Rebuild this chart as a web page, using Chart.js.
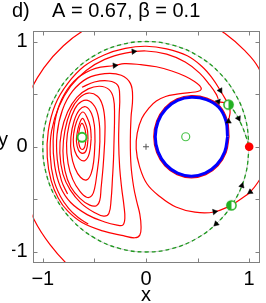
<!DOCTYPE html>
<html>
<head>
<meta charset="utf-8">
<script src="https://cdn.jsdelivr.net/npm/chart.js@4/dist/chart.umd.min.js"></script>
<style>
  html, body { margin: 0; padding: 0; background: #fff; }
</style>
</head>
<body>
<canvas id="myChart" width="266" height="303"></canvas>
<script>
// axis ticks
const tickMarks = [-1, -0.5, 0, 0.5, 1];
const xTickValues = [-1, 0, 1];
const xTickLabels = ["−1", "0", "1"];
const yTickValues = [-1, 0, 1];
const yTickLabels = ["−1", "0", "1"];

// fixed points
const leftFocus = [[-0.62, 0.09]];
const rightCenter = [[0.385, 0.095]];
const node = [[1, 0]];
const saddles = [[0.8, 0.4], [0.828, -0.557]];
const origin = [[0, 0]];

// invariant unit circle (green dashed) and saddle -> node branch
const unitCircle = [[1,0],[0.966,0.259],[0.866,0.5],[0.707,0.707],[0.5,0.866],[0.259,0.966],[0,1],[-0.259,0.966],[-0.5,0.866],[-0.707,0.707],[-0.866,0.5],[-0.966,0.259],[-1,0],[-0.966,-0.259],[-0.866,-0.5],[-0.707,-0.707],[-0.5,-0.866],[-0.259,-0.966],[0,-1],[0.259,-0.966],[0.5,-0.866],[0.707,-0.707],[0.866,-0.5],[0.966,-0.259],[1,0]];
const s1ToNode = [[0.8,0.4],[0.86,0.33],[0.92,0.22],[0.965,0.11],[1,0]];

// limit cycle (blue)
const blueCycle = [[0.79,0.095],[0.775,0.245],[0.705,0.375],[0.585,0.448],[0.44,0.47],[0.306,0.441],[0.193,0.36],[0.117,0.239],[0.09,0.095],[0.117,-0.049],[0.193,-0.17],[0.306,-0.251],[0.44,-0.28],[0.574,-0.251],[0.687,-0.17],[0.763,-0.049],[0.79,0.095]];

// trajectories (red)
const outerSpiral = [[-0.55,-1.3],[-0.75,-1.13],[-0.93,-0.93],[-1.08,-0.7],[-1.19,-0.42],[-1.24,-0.1],[-1.22,0.22],[-1.14,0.49],[-0.99,0.75],[-0.8,0.96],[-0.58,1.12],[-0.3,1.24],[0,1.3],[0.3,1.29],[0.55,1.21],[0.76,1.08],[0.95,0.92],[1.09,0.75],[1.18,0.5],[1.22,0.25],[1.21,0],[1.16,-0.2],[1.09,-0.33],[1.01,-0.43],[0.93,-0.49],[0.828,-0.557]];
const toS1 = [[0.8,0.4],[0.72,0.535],[0.64,0.655],[0.54,0.765],[0.4,0.865],[0.2,0.93],[0,0.955],[-0.2,0.935],[-0.4,0.875],[-0.6,0.765],[-0.76,0.6],[-0.88,0.4],[-0.947,0.15],[-0.957,-0.1],[-0.92,-0.32],[-0.85,-0.49],[-0.76,-0.61],[-0.62,-0.72],[-0.42,-0.8],[-0.22,-0.845],[-0.11,-0.865],[-0.06,-0.84],[-0.048,-0.76],[-0.06,-0.64],[-0.09,-0.52],[-0.12,-0.38],[-0.145,-0.18],[-0.152,0.05],[-0.145,0.28],[-0.13,0.46],[-0.15,0.6],[-0.24,0.68],[-0.4,0.695],[-0.57,0.65],[-0.71,0.53],[-0.81,0.35],[-0.862,0.12],[-0.86,-0.12],[-0.82,-0.32],[-0.76,-0.45]];
const toCycle = [[0.7,0.455],[0.68,0.5],[0.62,0.585],[0.52,0.7],[0.38,0.805],[0.2,0.88],[0,0.91],[-0.2,0.89],[-0.4,0.83],[-0.58,0.725],[-0.73,0.575],[-0.845,0.38],[-0.915,0.15],[-0.928,-0.08],[-0.895,-0.31],[-0.83,-0.47],[-0.75,-0.585],[-0.66,-0.67],[-0.56,-0.735]];
const toS2 = [[0.828,-0.557],[0.66,-0.62],[0.475,-0.622],[0.29,-0.573],[0.13,-0.47],[0.009,-0.352],[-0.065,-0.18],[-0.095,-0.02],[-0.085,0.13],[-0.04,0.27],[0.03,0.37],[0.1,0.435],[0.19,0.478],[0.3,0.5],[0.42,0.515],[0.5,0.525],[0.535,0.545],[0.52,0.58],[0.47,0.62],[0.38,0.67],[0.25,0.72],[0.1,0.76],[-0.05,0.78],[-0.209,0.79],[-0.303,0.772],[-0.49,0.745],[-0.66,0.655],[-0.79,0.5],[-0.87,0.3],[-0.9,0.06],[-0.885,-0.18],[-0.83,-0.38],[-0.73,-0.53],[-0.57,-0.645],[-0.4,-0.715],[-0.28,-0.745],[-0.225,-0.745],[-0.205,-0.68],[-0.215,-0.55],[-0.235,-0.4],[-0.255,-0.2],[-0.265,0.05],[-0.26,0.3],[-0.255,0.48],[-0.275,0.585],[-0.36,0.625],[-0.5,0.615],[-0.62,0.565]];
const loopK1 = [[-0.31,0.05],[-0.305,0.3],[-0.315,0.46],[-0.36,0.545],[-0.45,0.575],[-0.56,0.55],[-0.67,0.47],[-0.76,0.33],[-0.82,0.14],[-0.835,-0.06],[-0.805,-0.26],[-0.735,-0.41],[-0.625,-0.54],[-0.5,-0.625],[-0.41,-0.66],[-0.36,-0.635],[-0.338,-0.5],[-0.325,-0.3],[-0.315,-0.12],[-0.31,0.05]];
const loopL6 = [[-0.4,0.05],[-0.398,0.24],[-0.42,0.39],[-0.47,0.48],[-0.56,0.51],[-0.65,0.46],[-0.73,0.34],[-0.785,0.16],[-0.805,-0.04],[-0.785,-0.23],[-0.73,-0.38],[-0.64,-0.49],[-0.545,-0.555],[-0.48,-0.56],[-0.448,-0.51],[-0.435,-0.39],[-0.415,-0.18],[-0.4,0.05]];
const loopL5 = [[-0.447,0.05],[-0.452,0.22],[-0.485,0.36],[-0.55,0.435],[-0.625,0.43],[-0.69,0.36],[-0.745,0.21],[-0.77,0.03],[-0.755,-0.16],[-0.71,-0.31],[-0.64,-0.425],[-0.575,-0.48],[-0.525,-0.465],[-0.497,-0.39],[-0.475,-0.25],[-0.456,-0.1],[-0.447,0.05]];
const loopL4 = [[-0.494,0.05],[-0.5,0.2],[-0.528,0.315],[-0.585,0.38],[-0.645,0.35],[-0.697,0.245],[-0.728,0.09],[-0.724,-0.07],[-0.69,-0.2],[-0.635,-0.29],[-0.575,-0.315],[-0.532,-0.255],[-0.506,-0.13],[-0.494,0.05]];
const loopL3 = [[-0.531,0.08],[-0.54,0.19],[-0.572,0.28],[-0.61,0.33],[-0.65,0.29],[-0.688,0.19],[-0.705,0.07],[-0.69,-0.04],[-0.645,-0.115],[-0.59,-0.13],[-0.549,-0.06],[-0.531,0.08]];
const loopL2 = [[-0.562,0.07],[-0.568,0.16],[-0.59,0.23],[-0.615,0.27],[-0.645,0.22],[-0.667,0.13],[-0.674,0.05],[-0.655,-0.03],[-0.615,-0.063],[-0.578,-0.03],[-0.562,0.07]];
const loopL1 = [[-0.581,0.08],[-0.59,0.16],[-0.62,0.222],[-0.645,0.17],[-0.655,0.08],[-0.643,0],[-0.62,-0.026],[-0.595,-0.005],[-0.581,0.08]];
const hugCycle = [[0.805,0.095],[0.789,0.25],[0.716,0.386],[0.59,0.462],[0.44,0.485],[0.3,0.455],[0.182,0.371],[0.103,0.244],[0.075,0.095],[0.103,-0.054],[0.182,-0.181],[0.3,-0.265],[0.44,-0.295],[0.58,-0.265],[0.698,-0.181],[0.777,-0.054],[0.805,0.095]];
const s1Branches = [[0.7,0.425],[0.76,0.42],[0.8,0.4],[0.815,0.33],[0.8,0.25]];

// flow arrows: position and heading (degrees clockwise from up)
const arrowPts = [[0.72,0.535],[0.7,0.43],[-0.12,0.905],[-0.303,0.772],[0.665,-0.618],[0.8,0.24],[0.897,0.27],[0.929,-0.37],[0.68,-0.733],[1.01,-0.43]];
const arrowDir = [150, 280, 85, 85, 80, 0, 153, 17, 227, 235];

const RED = "#ff0000";
const GREEN = "#1f9a1f";
const FONT = "Liberation Sans";

function xy(arr) {
  return arr.map(([x, y]) => ({ x, y }));
}

function curve(arr, color, width, extra) {
  return Object.assign({
    data: xy(arr),
    showLine: true,
    borderColor: color,
    borderWidth: width,
    pointRadius: 0,
    tension: 0.4,
    fill: false,
  }, extra || {});
}

function halfDot(right) {
  const c = document.createElement("canvas");
  c.width = 13;
  c.height = 13;
  const g = c.getContext("2d");
  g.fillStyle = "#fff";
  g.beginPath();
  g.arc(6.5, 6.5, 4.6, 0, Math.PI * 2);
  g.fill();
  g.fillStyle = "#22b022";
  g.beginPath();
  g.moveTo(6.5, 6.5);
  g.arc(6.5, 6.5, 4.6, -Math.PI / 2, Math.PI / 2, !right);
  g.closePath();
  g.fill();
  g.strokeStyle = "#22b022";
  g.lineWidth = 1.5;
  g.beginPath();
  g.arc(6.5, 6.5, 4.6, 0, Math.PI * 2);
  g.stroke();
  return c;
}

const frame = {
  id: "frame",
  afterDraw(chart) {
    const { ctx, chartArea: a, scales: { x, y } } = chart;
    ctx.save();
    ctx.strokeStyle = "#808080";
    ctx.lineWidth = 1;
    const l = Math.round(a.left) + 0.5, r = Math.round(a.right) - 0.5;
    const t = Math.round(a.top) + 0.5, b = Math.round(a.bottom) - 0.5;
    ctx.strokeRect(l, t, r - l, b - t);
    ctx.beginPath();
    tickMarks.forEach((v) => {
      const px = Math.round(x.getPixelForValue(v)) + 0.5;
      ctx.moveTo(px, b); ctx.lineTo(px, b - 4);
      ctx.moveTo(px, t); ctx.lineTo(px, t + 4);
      const py = Math.round(y.getPixelForValue(v)) + 0.5;
      ctx.moveTo(l, py); ctx.lineTo(l + 4, py);
      ctx.moveTo(r, py); ctx.lineTo(r - 4, py);
    });
    ctx.stroke();
    ctx.fillStyle = "#000";
    ctx.font = '20px "' + FONT + '"';
    ctx.textAlign = "center";
    ctx.textBaseline = "alphabetic";
    ctx.fillText("x", x.getPixelForValue(0), 301);
    ctx.fillText("y", 3, 146);
    ctx.restore();
  },
};

const ctx = document.getElementById("myChart");

new Chart(ctx, {
  type: "scatter",
  data: {
    datasets: [
      { data: xy(leftFocus), pointRadius: 4.5, pointBorderWidth: 2, pointBorderColor: "#2fbf2f", pointBackgroundColor: "#fff" },
      { data: xy(rightCenter), pointRadius: 4, pointBorderWidth: 1.2, pointBorderColor: "#4cc44c", pointBackgroundColor: "rgba(255,255,255,0)" },
      { data: xy(node), pointRadius: 4.3, pointBorderWidth: 0, pointBackgroundColor: RED },
      { data: xy(saddles), pointStyle: [halfDot(true), halfDot(false)] },
      { data: xy(origin), pointStyle: "cross", pointRadius: 3, pointBorderWidth: 1, pointBorderColor: "#555" },
      { data: xy(arrowPts), pointStyle: "triangle", pointRadius: 3.2, pointRotation: arrowDir, pointBackgroundColor: "#000", pointBorderColor: "#000", pointBorderWidth: 0.5 },
      curve(blueCycle, "#0000ff", 3),
      curve(hugCycle, RED, 1.2),
      curve(s1Branches, RED, 1.2),
      curve(toS1, RED, 1.2),
      curve(toCycle, RED, 1.2),
      curve(toS2, RED, 1.2),
      curve(loopK1, RED, 1.2),
      curve(loopL6, RED, 1.2),
      curve(loopL5, RED, 1.2),
      curve(loopL4, RED, 1.2),
      curve(loopL3, RED, 1.2),
      curve(loopL2, RED, 1.2),
      curve(loopL1, RED, 1.2),
      curve(outerSpiral, RED, 1.2),
      curve(s1ToNode, GREEN, 1.3, { borderDash: [4, 3] }),
      curve(unitCircle, GREEN, 1.3, { borderDash: [4, 3] }),
      curve(s1ToNode, "#c8c8c8", 1),
      curve(unitCircle, "#c8c8c8", 1),
    ],
  },
  options: {
    responsive: false,
    animation: false,
    devicePixelRatio: 1,
    layout: { padding: { left: 12, right: 0, top: 0, bottom: 0 } },
    elements: { line: { capBezierPoints: false } },
    plugins: {
      legend: { display: false },
      tooltip: { enabled: false },
      title: {
        display: true,
        text: "d)    A = 0.67, β = 0.1",
        align: "start",
        color: "#000",
        font: { family: FONT, size: 20, weight: "normal", lineHeight: 1 },
        padding: { top: 1, bottom: 10 },
      },
    },
    scales: {
      x: {
        type: "linear",
        min: -1.1,
        max: 1.1,
        grid: { display: false, drawTicks: false },
        border: { display: false },
        afterBuildTicks: (scale) => { scale.ticks = xTickValues.map((v) => ({ value: v })); },
        afterFit: (scale) => { scale.height = 40.5; },
        ticks: {
          padding: 5,
          maxRotation: 0,
          color: "#000",
          font: { family: FONT, size: 20 },
          callback: (v, i) => xTickLabels[i],
        },
      },
      y: {
        type: "linear",
        min: -1.1,
        max: 1.1,
        grid: { display: false, drawTicks: false },
        border: { display: false },
        afterBuildTicks: (scale) => { scale.ticks = yTickValues.map((v) => ({ value: v })); },
        afterFit: (scale) => { scale.width = 20.5; },
        ticks: {
          padding: 5,
          color: "#000",
          font: { family: FONT, size: 20 },
          callback: (v, i) => yTickLabels[i],
        },
      },
    },
  },
  plugins: [frame],
});
</script>
</body>
</html>
